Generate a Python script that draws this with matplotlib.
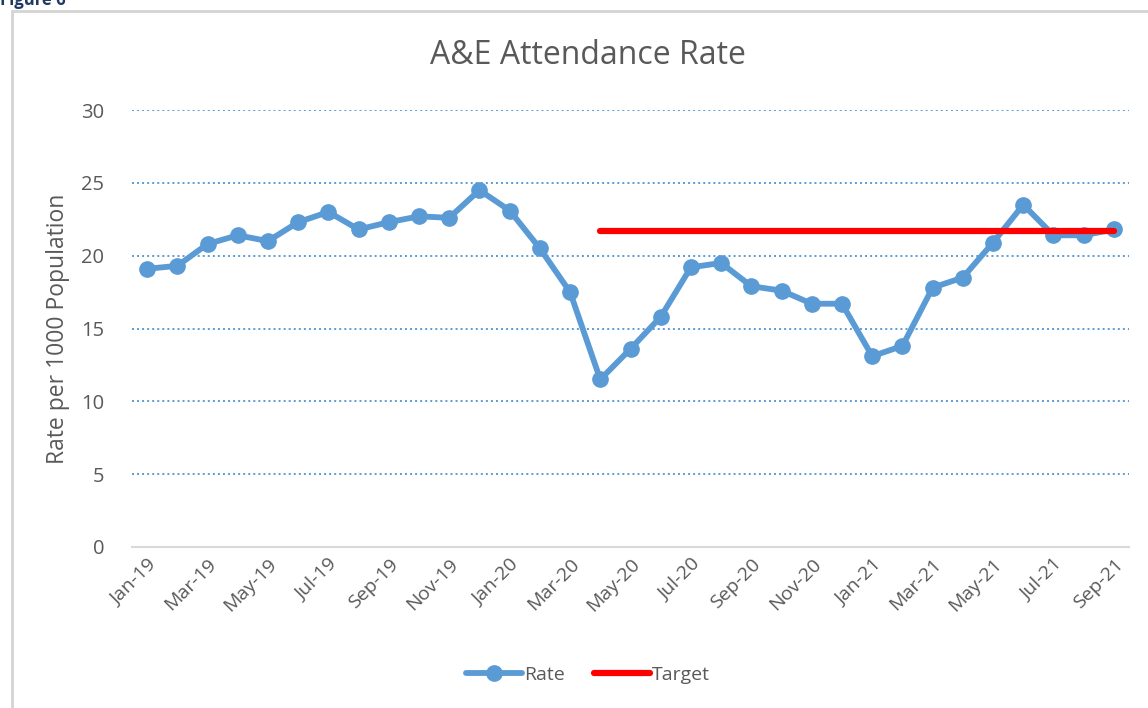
import numpy as np
import matplotlib.pyplot as plt
from matplotlib.patches import Rectangle

plt.rcParams['font.family'] = ['Open Sans', 'DejaVu Sans']

# Monthly A&E attendances per 1000 population, Jan-19 to Sep-21
months = ['Jan-19', 'Feb-19', 'Mar-19', 'Apr-19', 'May-19', 'Jun-19', 'Jul-19', 'Aug-19',
          'Sep-19', 'Oct-19', 'Nov-19', 'Dec-19', 'Jan-20', 'Feb-20', 'Mar-20', 'Apr-20',
          'May-20', 'Jun-20', 'Jul-20', 'Aug-20', 'Sep-20', 'Oct-20', 'Nov-20', 'Dec-20',
          'Jan-21', 'Feb-21', 'Mar-21', 'Apr-21', 'May-21', 'Jun-21', 'Jul-21', 'Aug-21',
          'Sep-21']
rate = [19.1, 19.3, 20.8, 21.4, 21.0, 22.3, 23.0, 21.8,
        22.3, 22.7, 22.6, 24.5, 23.1, 20.5, 17.5, 11.5,
        13.6, 15.8, 19.2, 19.5, 17.9, 17.6, 16.7, 16.7,
        13.1, 13.8, 17.8, 18.5, 20.9, 23.5, 21.4, 21.4,
        21.8]
target_value = 21.7
target_start = 'Apr-20'

grey = '#595959'
blue = '#5B9BD5'

fig = plt.figure(figsize=(11.48, 7.08), dpi=100)
fig.patches.append(Rectangle((12 / 1148, -0.01), 1.0, 1 - 11 / 708 + 0.01,
                             transform=fig.transFigure, fill=False,
                             edgecolor='#D4D4D4', linewidth=2))
fig.text(0.0, 1.0, 'Figure 6', color='#1F3864', fontsize=12, fontweight='bold',
         ha='left', va='center')

ax = fig.add_axes([132 / 1148, 1 - 547 / 708, (1129 - 132) / 1148, (547 - 110) / 708])
x = np.arange(len(months))

ax.plot(x, rate, color=blue, linewidth=4.2, marker='o', markersize=11,
        solid_capstyle='round', solid_joinstyle='round', label='Rate', zorder=3)

t0 = months.index(target_start)
tx = x[t0:]
ax.plot(tx, [target_value] * len(tx), color='#FF0000', linewidth=4.5,
        solid_capstyle='round', label='Target', zorder=4)

ax.set_xlim(-0.5, len(months) - 0.5)
ax.set_ylim(0, 30)
ax.set_yticks(range(0, 31, 5))
ax.set_xticks(x[::2])
ax.set_xticklabels(months[::2], rotation=45, ha='right', va='top',
                   rotation_mode='anchor', fontsize=14, color=grey)
ax.tick_params(axis='y', labelsize=14.5, labelcolor=grey, length=0, pad=20)
ax.tick_params(axis='x', length=0, pad=6)

for v in range(5, 31, 5):
    ax.axhline(v, color=blue, linestyle=(0, (1, 1.6)), linewidth=1.4, zorder=1)

for side in ['top', 'right', 'left']:
    ax.spines[side].set_visible(False)
ax.spines['bottom'].set_color('#D9D9D9')
ax.spines['bottom'].set_linewidth(1.5)

ax.set_ylabel('Rate per 1000 Population', fontsize=16.5, color=grey, labelpad=8)
fig.text(588 / 1148, 1 - 55 / 708, 'A&E Attendance Rate', fontsize=23,
         color=grey, ha='center', va='center')

fig.legend(loc='center', bbox_to_anchor=(588 / 1148, 1 - 675 / 708), ncol=2,
           frameon=False, fontsize=14, labelcolor=grey, handlelength=2.9,
           handletextpad=0.1, columnspacing=1.5)

fig.savefig('out.png', dpi=100)
